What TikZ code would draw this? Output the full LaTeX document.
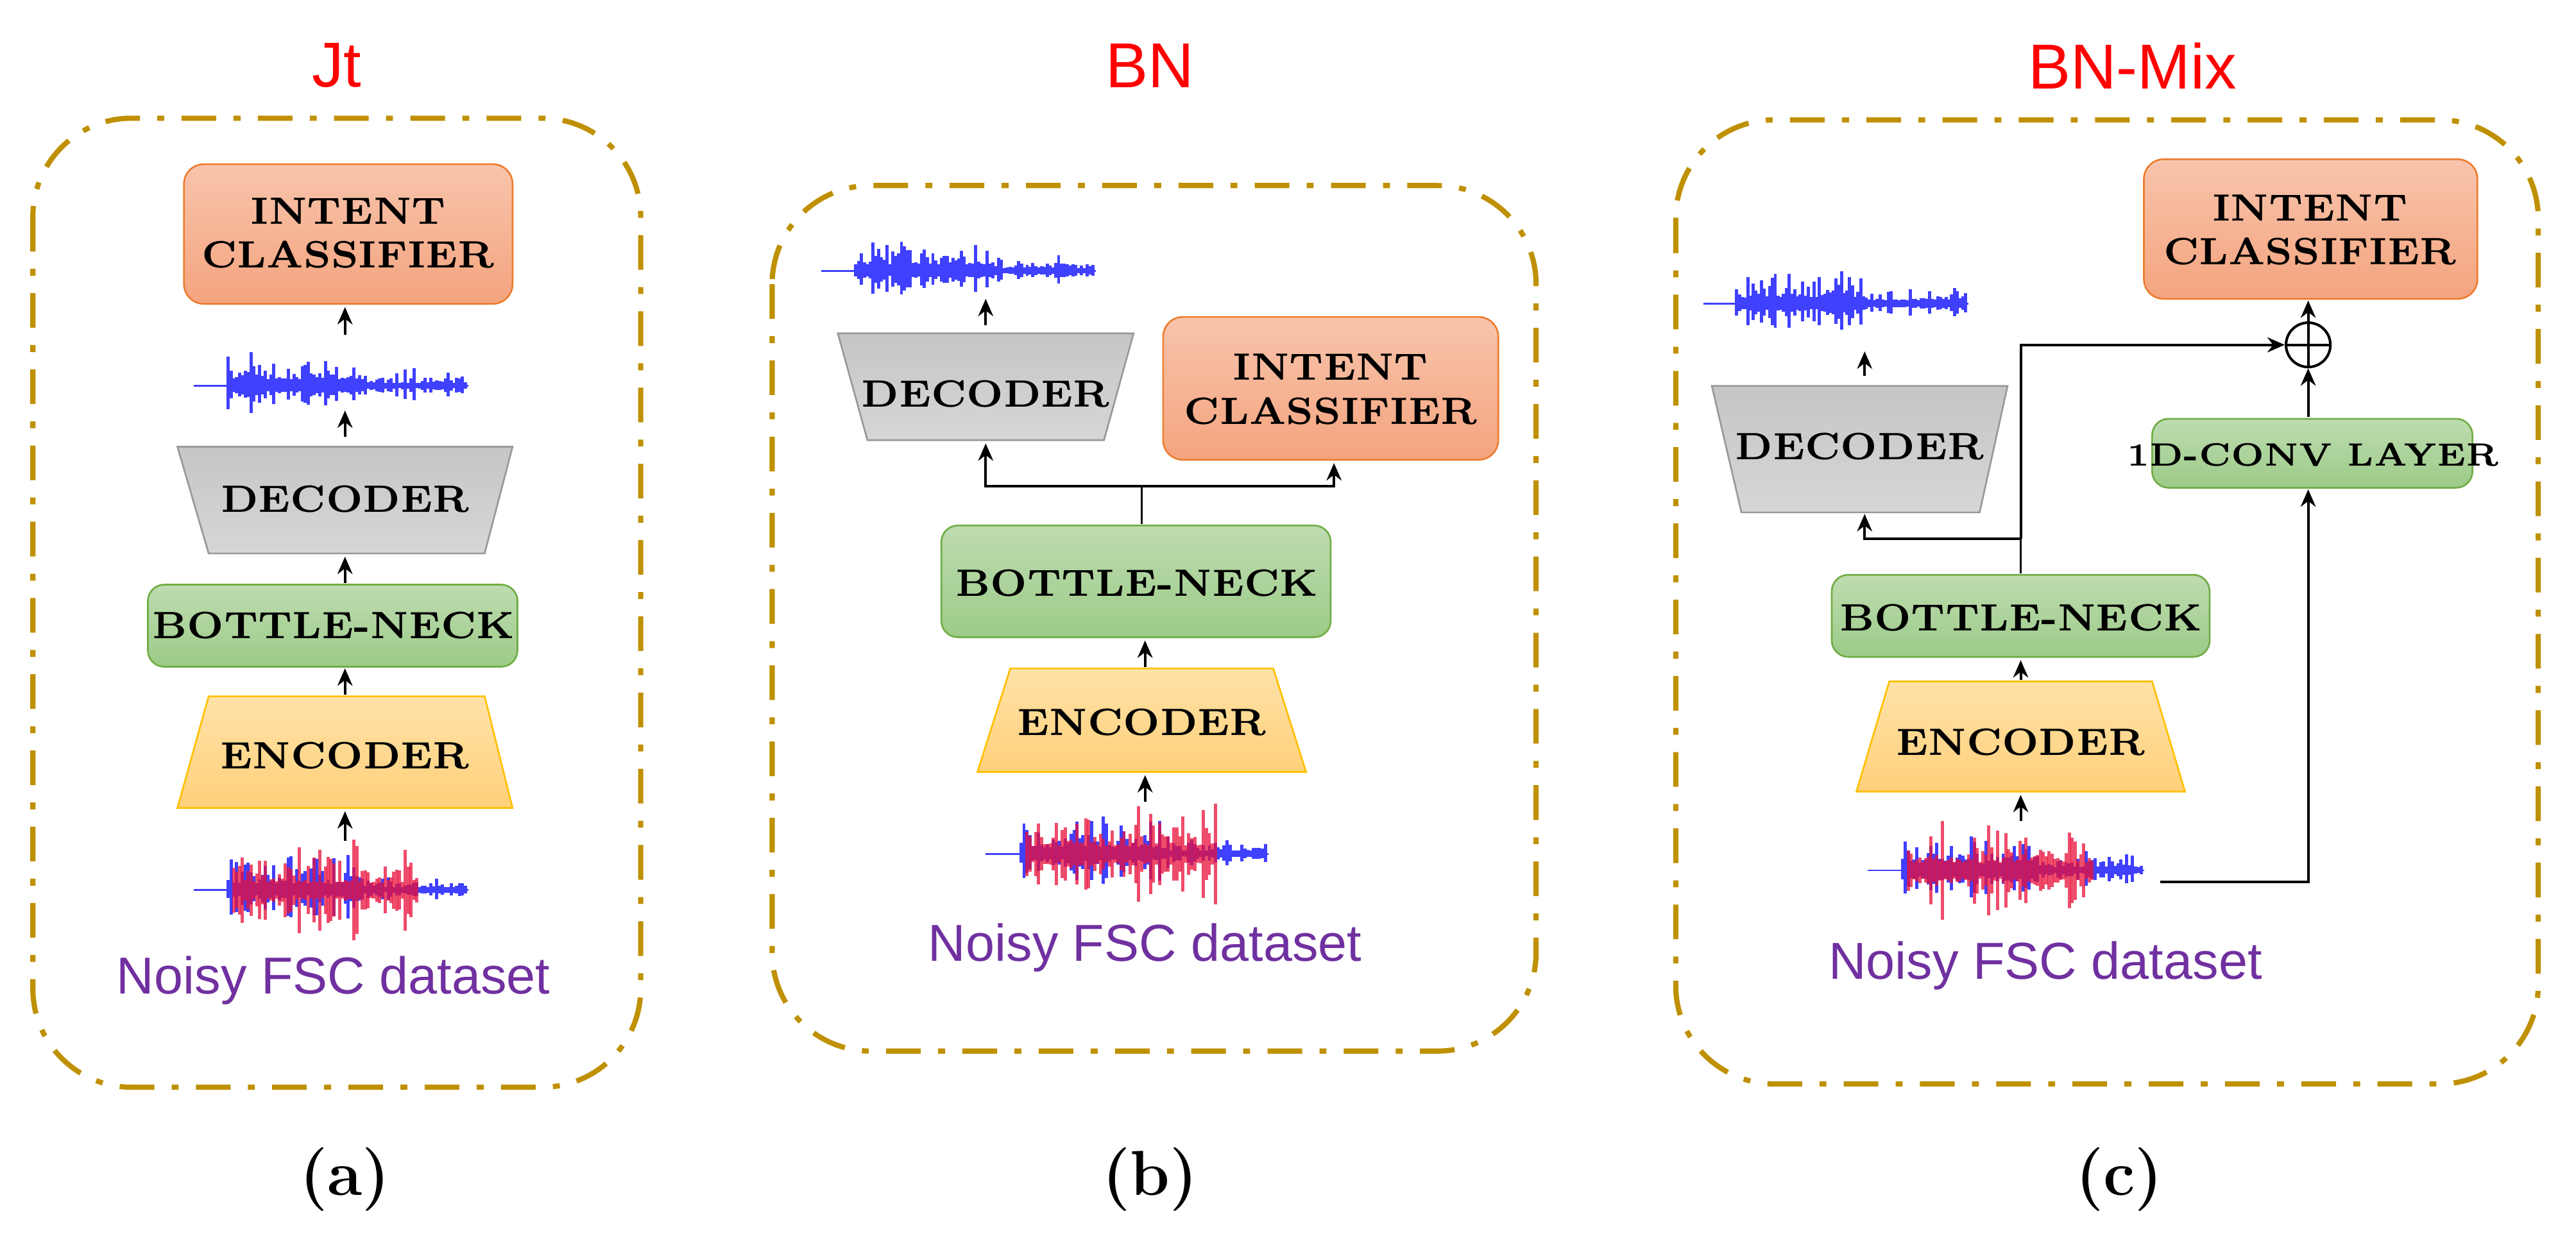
\documentclass[tikz,border=0pt]{standalone}
\usepackage{fontspec}
\newfontfamily\sansf{Liberation Sans}
\usetikzlibrary{arrows.meta,calc}
\definecolor{gold}{HTML}{BF9000}
\definecolor{ttl}{HTML}{FF0000}
\definecolor{purp}{HTML}{7030A0}
\definecolor{wblue}{HTML}{4040FF}
\definecolor{wred}{HTML}{E8103A}
\definecolor{gtop}{HTML}{BEDCB0}
\definecolor{gbot}{HTML}{9CCB88}
\definecolor{gdraw}{HTML}{70AD47}
\definecolor{otop}{HTML}{F8C4AC}
\definecolor{obot}{HTML}{F4A47E}
\definecolor{odraw}{HTML}{ED7D31}
\definecolor{ytop}{HTML}{FFE2A8}
\definecolor{ybot}{HTML}{FFD07A}
\definecolor{ydraw}{HTML}{FFC000}
\tikzset{
 x=0.01cm,y=-0.01cm,
 panel/.style={draw=gold,line width=0.9pt,rounded corners=0.6cm,dash pattern=on 6pt off 3pt on 1.2pt off 3pt},
 lbl/.style={font=\fontsize{6.6}{7.6}\selectfont\bfseries,align=center,inner sep=0pt},
 cls/.style={draw=odraw,line width=0.3pt,rounded corners=0.12cm,top color=otop,bottom color=obot},
 bn/.style={draw=gdraw,line width=0.3pt,rounded corners=0.1cm,top color=gtop,bottom color=gbot},
 dec/.style={draw=gray!80,line width=0.3pt,top color=gray!45,bottom color=gray!32},
 enc/.style={draw=ydraw,line width=0.3pt,top color=ytop,bottom color=ybot},
 ar/.style={-{Stealth[length=3pt,width=2.6pt]},line width=0.45pt},
 ln/.style={line width=0.4pt},
 ttlf/.style={font=\sansf\fontsize{11}{13}\selectfont,text=ttl},
 nfs/.style={font=\sansf\fontsize{9}{11}\selectfont,text=purp},
 capf/.style={font=\fontsize{11}{13}\selectfont\bfseries}
}
% wave: x0, yc, width, colour, maxamp, seed
\newcommand\mywave[6]{%
 \pgfmathsetseed{#6}%
 \draw[#4,line width=0.3pt] (#1,#2) -- ({#1+#3},#2);
 \foreach \i in {12,...,95}{%
   \pgfmathsetmacro\xx{#1+#3*\i/96}%
   \pgfmathsetmacro\env{(\i<60 ? 1 : 0.45)*(0.15+0.85*rnd*rnd)}%
   \pgfmathsetmacro\aa{#5*\env}%
   \draw[#4,line width=0.55pt] (\xx,{#2-\aa}) -- (\xx,{#2+\aa*0.8});
 }}
\newcommand\mynoisy[5]{%
 \mywave{#1}{#2}{#3}{wblue}{#4}{#5}%
 \begin{scope}[opacity=0.75]
 \pgfmathsetseed{#5+7}%
 \foreach \i in {14,...,78}{%
   \pgfmathsetmacro\xx{#1+#3*\i/96}%
   \pgfmathsetmacro\aa{#4*1.2*(0.15+0.85*rnd*rnd)}%
   \draw[wred,line width=0.55pt] (\xx,{#2-\aa}) -- (\xx,{#2+\aa});
 }
 \end{scope}}
\begin{document}
\begin{tikzpicture}
\useasboundingbox (0,0) rectangle (1568,762);
% titles
\node[ttlf] (ta) at (205,40) {Jt};
\node[ttlf] (tb) at (700,40) {BN};
\node[ttlf] (tc) at (1298,40) {BN-Mix};
% panels
\draw[panel] (20,72) rectangle (390,662);
\draw[panel] (470,113) rectangle (935,640);
\draw[panel] (1020,73) rectangle (1545,660);
% captions
\node[capf] (ca) at (210,718) {(a)};
\node[capf] (cb) at (700,718) {(b)};
\node[capf] (cc) at (1290,718) {(c)};

%%%%%%%%% panel a
\draw[cls] (112,100) rectangle (312,185);
\node[lbl] (aic) at (212,142) {INTENT\\CLASSIFIER};
\mywave{118}{235}{167}{wblue}{26}{11}
\draw[dec] (108,272) -- (312,272) -- (295,337) -- (127,337) -- cycle;
\node[lbl] (adec) at (210,304) {DECODER};
\draw[bn] (90,356) rectangle (315,406);
\node[lbl] (abn) at (203,381) {BOTTLE-NECK};
\draw[enc] (127,424) -- (295,424) -- (312,492) -- (108,492) -- cycle;
\node[lbl] (aenc) at (210,460) {ENCODER};
\mynoisy{118}{542}{167}{26}{21}
\node[nfs] (anf) at (203,597) {Noisy FSC dataset};
\coordinate (a1) at (210,512); \coordinate (a1t) at (210,494);
\coordinate (a2) at (210,423); \coordinate (a2t) at (210,407);
\coordinate (a3) at (210,355); \coordinate (a3t) at (210,339);
\coordinate (a4) at (210,266); \coordinate (a4t) at (210,250);
\coordinate (a5) at (210,204); \coordinate (a5t) at (210,187);
\foreach \p in {1,...,5}{\draw[ar] (a\p) -- (a\p t);}

%%%%%%%%% panel b
\mywave{500}{165}{167}{wblue}{26}{31}
\draw[dec] (510,203) -- (690,203) -- (672,268) -- (528,268) -- cycle;
\node[lbl] (bdec) at (600,240) {DECODER};
\draw[cls] (708,193) rectangle (912,280);
\node[lbl] (bic) at (810,237) {INTENT\\CLASSIFIER};
\draw[bn] (573,320) rectangle (810,388);
\node[lbl] (bbn) at (692,355) {BOTTLE-NECK};
\draw[enc] (615,407) -- (775,407) -- (795,470) -- (595,470) -- cycle;
\node[lbl] (benc) at (695,440) {ENCODER};
\mynoisy{600}{520}{172}{27}{41}
\node[nfs] (bnf) at (697,577) {Noisy FSC dataset};
\coordinate (bj) at (695,296); \coordinate (bs) at (695,319);
\draw[ln] (bs) -- (bj);
\draw[ar] (bj) -| (600,270);
\draw[ar] (bj) -| (812,282);
\draw[ar] (697,406) -- (697,390);
\draw[ar] (600,198) -- (600,182);
\draw[ar] (697,488) -- (697,472);

%%%%%%%%% panel c
\draw[cls] (1305,97) rectangle (1508,182);
\node[lbl] (cic) at (1406,140) {INTENT\\CLASSIFIER};
\node[circle,draw,line width=0.45pt,minimum size=0.27cm,inner sep=0pt] (op) at (1405,210) {};
\draw[line width=0.45pt] (op.north) -- (op.south) (op.west) -- (op.east);
\draw[ar] (op.north) -- (1405,183);
\mywave{1037}{185}{161}{wblue}{26}{51}
\draw[dec] (1042,235) -- (1222,235) -- (1205,312) -- (1060,312) -- cycle;
\node[lbl] (cdec) at (1132,272) {DECODER};
\draw[ar] (1135,229) -- (1135,214);
\draw[bn] (1310,255) rectangle (1505,297);
\node[lbl,font=\fontsize{5.6}{6.4}\selectfont\bfseries] (cconv) at (1408,277) {1D-CONV LAYER};
\draw[ar] (1405,254) -- (op.south);
\draw[bn] (1115,350) rectangle (1345,400);
\node[lbl] (cbn) at (1230,376) {BOTTLE-NECK};
\coordinate (cj) at (1230,328);
\draw[ln] (1230,349) -- (cj);
\draw[ar] (cj) -| (1135,313);
\draw[ar] (cj) |- (op.west);
\draw[enc] (1150,415) -- (1310,415) -- (1330,482) -- (1130,482) -- cycle;
\node[lbl] (cenc) at (1230,452) {ENCODER};
\draw[ar] (1230,414) -- (1230,402);
\mynoisy{1137}{530}{168}{27}{61}
\draw[ar] (1230,500) -- (1230,484);
\draw[ar] (1315,537) -| (1405,298);
\node[nfs] (cnf) at (1245,588) {Noisy FSC dataset};
\end{tikzpicture}
\end{document}
